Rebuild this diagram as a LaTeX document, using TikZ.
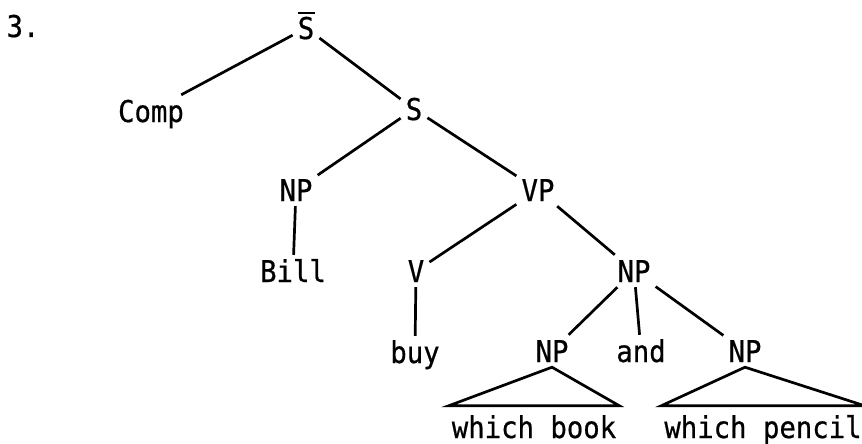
\documentclass[tikz,border=0pt]{standalone}
\usepackage{fontspec}
\newfontfamily\treefont{DejaVu Sans Mono}[FakeStretch=0.91,FakeBold=0.6]
% S with a bar over it
\newcommand\barS{\makebox[0pt][l]{\rule[25pt]{17pt}{2.2pt}}S}
\begin{document}
\begin{tikzpicture}[x=1pt,y=-1pt,
  cat/.style={inner sep=5pt, text height=22pt, text depth=0pt, font=\treefont\fontsize{30}{34}\selectfont},
  leaf/.style={cat, inner xsep=3pt, inner ysep=3pt},
  branch/.style={line width=2.7pt}]
\useasboundingbox (0,0) rectangle (862,444);
\node[cat] (num) at (23,26) {3.};
% categories
\node[cat] (sbar) at (306,28) {\barS};
\node[cat] (comp) at (151,111) {Comp};
\node[cat] (s) at (414,109) {S};
\node[cat] (np1) at (296,190) {NP};
\node[cat] (vp) at (538,190) {VP};
\node[cat] (bill) at (293,271) {Bill};
\node[cat] (v) at (416,271) {V};
\node[cat] (np2) at (634,271) {NP};
\node[cat] (buy) at (415,352) {buy};
\node[cat] (np3) at (552,351) {NP};
\node[cat] (and) at (641,351) {and};
\node[cat] (np4) at (745,351) {NP};
\node[leaf] (book) at (534,427) {which book};
\node[leaf] (pencil) at (763,427) {which pencil};
% branches
\draw[branch] (sbar) -- (comp);
\draw[branch] (sbar) -- (s);
\draw[branch] (s) -- (np1);
\draw[branch] (s) -- (vp);
\draw[branch] (np1) -- (bill);
\draw[branch] (vp) -- (v);
\draw[branch] (vp) -- (np2);
\draw[branch] (v) -- (buy);
\draw[branch] (np2) -- (np3);
\draw[branch] (np2) -- (and);
\draw[branch] (np2) -- (np4);
% roofs over the unanalysed phrases
\draw[branch] (np3.south) -- ([yshift=7pt]book.north west) -- ([yshift=7pt]book.north east) -- cycle;
\draw[branch] (np4.south) -- ([yshift=7pt]pencil.north west) -- ([yshift=7pt]pencil.north east) -- cycle;
\end{tikzpicture}
\end{document}
